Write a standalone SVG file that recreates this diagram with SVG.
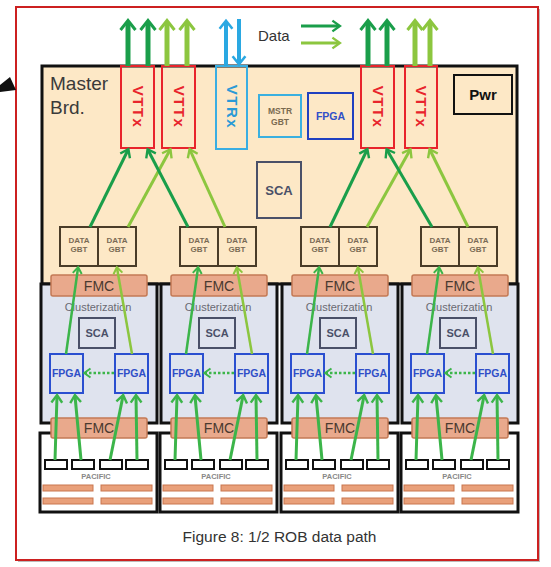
<svg xmlns="http://www.w3.org/2000/svg" width="551" height="567" viewBox="0 0 551 567">
<style>
text{font-family:"Liberation Sans","DejaVu Sans",Arial,sans-serif}
.board{fill:#fde8c6;stroke:#111;stroke-width:3}
.vttx{fill:none;stroke:#e8242c;stroke-width:2}
.vttxt{fill:#e8242c;font-size:15px;font-weight:bold;letter-spacing:1.5px}
.vtrx{fill:none;stroke:#3aaee2;stroke-width:2}
.vtrxt{fill:#2a9ad6;font-size:15px;font-weight:bold;letter-spacing:1.5px}
.clust{fill:#dfe3ee;stroke:#111;stroke-width:3}
.pac{fill:#fff;stroke:#111;stroke-width:3}
.fmc{fill:#e9a98c;stroke:#c47a55;stroke-width:1.5}
.fmct{fill:#4a3a30;font-size:14px}
.gbt{fill:#fde8c6;stroke:#4a3c28;stroke-width:2}
.gbtt{fill:#7a6a55;font-size:8px;font-weight:bold}
.fpga{fill:none;stroke:#2a4fd0;stroke-width:2}
.fpgat{fill:#2f4fc8;font-size:10.5px;font-weight:bold}
.sca{fill:none;stroke:#4a5068;stroke-width:2}
.scat{fill:#4a5068;font-weight:bold}
.chip{fill:#fff;stroke:#111;stroke-width:2}
.bar{fill:#e9a07a;stroke:#c9764e;stroke-width:1}
.ct{fill:#6a6a72;font-size:11px}
.pt{fill:#888;font-size:7.5px;font-weight:bold}
.dk{stroke:#1a9e4a;fill:none}
.lt{stroke:#8cc63f;fill:none}
.md{stroke:#3cb54a;fill:none}
.bl{stroke:#2aa8e2;fill:none}
</style>
<defs>
<marker id="bDk" markerUnits="strokeWidth" viewBox="-3 -3 5 6" markerWidth="5" markerHeight="6" refX="0" refY="0" orient="auto" overflow="visible"><path d="M-1.6,-1.5 L0.3,0 L-1.6,1.5" fill="none" stroke="#1a9e4a" stroke-width="0.6"/></marker>
<marker id="bLt" markerUnits="strokeWidth" viewBox="-3 -3 5 6" markerWidth="5" markerHeight="6" refX="0" refY="0" orient="auto" overflow="visible"><path d="M-1.6,-1.5 L0.3,0 L-1.6,1.5" fill="none" stroke="#8cc63f" stroke-width="0.6"/></marker>
<marker id="bBl" markerUnits="strokeWidth" viewBox="-3 -3 5 6" markerWidth="5" markerHeight="6" refX="0" refY="0" orient="auto" overflow="visible"><path d="M-1.7,-1.6 L0.3,0 L-1.7,1.6" fill="none" stroke="#2aa8e2" stroke-width="0.65"/></marker>
<marker id="sDk" markerUnits="strokeWidth" viewBox="-4 -3 5 6" markerWidth="5" markerHeight="6" refX="0" refY="0" orient="auto" overflow="visible"><path d="M-2.2,-1.8 L0.3,0 L-2.2,1.8" fill="none" stroke="#1a9e4a" stroke-width="0.8"/></marker>
<marker id="sLt" markerUnits="strokeWidth" viewBox="-4 -3 5 6" markerWidth="5" markerHeight="6" refX="0" refY="0" orient="auto" overflow="visible"><path d="M-2.2,-1.8 L0.3,0 L-2.2,1.8" fill="none" stroke="#8cc63f" stroke-width="0.8"/></marker>
<marker id="sMd" markerUnits="strokeWidth" viewBox="-4 -3 5 6" markerWidth="5" markerHeight="6" refX="0" refY="0" orient="auto" overflow="visible"><path d="M-2.2,-1.8 L0.3,0 L-2.2,1.8" fill="none" stroke="#3cb54a" stroke-width="0.8"/></marker>
</defs>

<rect x="18" y="9" width="522" height="553" fill="#bbb"/>
<rect x="16" y="7" width="522" height="553" fill="#fff" stroke="#cc2020" stroke-width="2"/>
<polygon points="0,85 10,77 16,90 0,92" fill="#111"/>

<g id="master">
<rect class="board" x="42" y="66" width="475" height="218"/>
<text x="50" y="90" font-size="19" fill="#3a3a3a">Master</text>
<text x="50" y="114" font-size="19" fill="#3a3a3a">Brd.</text>
</g>

<g id="vttx1"><rect class="vttx" x="121" y="66" width="33" height="82"/><text class="vttxt" transform="translate(137.5,107) rotate(90)" text-anchor="middle" dy="5">VTTx</text></g>
<g id="vttx2"><rect class="vttx" x="162" y="66" width="33" height="82"/><text class="vttxt" transform="translate(178.5,107) rotate(90)" text-anchor="middle" dy="5">VTTx</text></g>
<g id="vtrx"><rect class="vtrx" x="216" y="66" width="31" height="83"/><text class="vtrxt" transform="translate(231.5,107) rotate(90)" text-anchor="middle" dy="5">VTRx</text></g>
<g id="vttx3"><rect class="vttx" x="361" y="66" width="33" height="82"/><text class="vttxt" transform="translate(377.5,107) rotate(90)" text-anchor="middle" dy="5">VTTx</text></g>
<g id="vttx4"><rect class="vttx" x="405" y="66" width="32" height="82"/><text class="vttxt" transform="translate(421,107) rotate(90)" text-anchor="middle" dy="5">VTTx</text></g>

<g id="mstrgbt"><rect x="259" y="95" width="42" height="42" fill="none" stroke="#3ab0e0" stroke-width="2"/><text x="280" y="114" text-anchor="middle" font-size="8.5" font-weight="bold" fill="#7a6a50">MSTR</text><text x="280" y="125" text-anchor="middle" font-size="8.5" font-weight="bold" fill="#7a6a50">GBT</text></g>
<g id="mfpga"><rect x="308" y="93" width="45" height="46" fill="none" stroke="#2040c0" stroke-width="2"/><text x="330.5" y="120" text-anchor="middle" font-size="10.5" font-weight="bold" fill="#3050c8">FPGA</text></g>
<g id="msca"><rect class="sca" x="257" y="162" width="44" height="56"/><text class="scat" x="279" y="195" text-anchor="middle" font-size="13">SCA</text></g>
<g id="pwr"><rect x="454" y="75" width="58" height="39" fill="none" stroke="#111" stroke-width="2"/><text x="483" y="100" text-anchor="middle" font-size="15" font-weight="bold" fill="#111">Pwr</text></g>
<g id="legend"><text x="258" y="41" font-size="15" fill="#333">Data</text></g>

<g id="col1" transform="translate(41,0)">
<g id="clust1"><rect class="clust" x="0" y="284" width="116" height="139"/><text class="ct" x="57" y="311" text-anchor="middle">Clusterization</text></g>
<g id="pacb1"><rect class="pac" x="-1" y="433" width="117" height="79"/>
<rect class="chip" x="4" y="460" width="22" height="9"/><rect class="chip" x="31" y="460" width="22" height="9"/><rect class="chip" x="59" y="460" width="22" height="9"/><rect class="chip" x="85" y="460" width="22" height="9"/>
<text class="pt" x="55" y="479" text-anchor="middle">PACIFIC</text>
<rect class="bar" x="2" y="485" width="50" height="6"/><rect class="bar" x="60" y="485" width="51" height="6"/><rect class="bar" x="2" y="498" width="50" height="6"/><rect class="bar" x="60" y="498" width="51" height="6"/></g>
<g id="fmcT1"><rect class="fmc" x="10" y="275" width="96" height="21" rx="2"/><text class="fmct" x="58" y="291" text-anchor="middle">FMC</text></g>
<g id="fmcB1"><rect class="fmc" x="10" y="418" width="96" height="20" rx="2"/><text class="fmct" x="58" y="433" text-anchor="middle">FMC</text></g>
<g id="sca1"><rect class="sca" x="38" y="318" width="36" height="30"/><text class="scat" x="56" y="337" text-anchor="middle" font-size="11">SCA</text></g>
<g id="fpgaL1"><rect class="fpga" x="9" y="354" width="33" height="39"/><text class="fpgat" x="25.5" y="377" text-anchor="middle">FPGA</text></g>
<g id="fpgaR1"><rect class="fpga" x="74" y="354" width="33" height="39"/><text class="fpgat" x="90.5" y="377" text-anchor="middle">FPGA</text></g>
<g id="gbtA1"><rect class="gbt" x="19" y="227" width="38" height="39"/><text class="gbtt" x="38" y="243" text-anchor="middle">DATA</text><text class="gbtt" x="38" y="252" text-anchor="middle">GBT</text></g>
<g id="gbtB1"><rect class="gbt" x="57" y="227" width="38" height="39"/><text class="gbtt" x="76" y="243" text-anchor="middle">DATA</text><text class="gbtt" x="76" y="252" text-anchor="middle">GBT</text></g>
</g>

<g id="col2" transform="translate(161,0)">
<g id="clust2"><rect class="clust" x="0" y="284" width="116" height="139"/><text class="ct" x="57" y="311" text-anchor="middle">Clusterization</text></g>
<g id="pacb2"><rect class="pac" x="-1" y="433" width="117" height="79"/>
<rect class="chip" x="4" y="460" width="22" height="9"/><rect class="chip" x="31" y="460" width="22" height="9"/><rect class="chip" x="59" y="460" width="22" height="9"/><rect class="chip" x="85" y="460" width="22" height="9"/>
<text class="pt" x="55" y="479" text-anchor="middle">PACIFIC</text>
<rect class="bar" x="2" y="485" width="50" height="6"/><rect class="bar" x="60" y="485" width="51" height="6"/><rect class="bar" x="2" y="498" width="50" height="6"/><rect class="bar" x="60" y="498" width="51" height="6"/></g>
<g id="fmcT2"><rect class="fmc" x="10" y="275" width="96" height="21" rx="2"/><text class="fmct" x="58" y="291" text-anchor="middle">FMC</text></g>
<g id="fmcB2"><rect class="fmc" x="10" y="418" width="96" height="20" rx="2"/><text class="fmct" x="58" y="433" text-anchor="middle">FMC</text></g>
<g id="sca2"><rect class="sca" x="38" y="318" width="36" height="30"/><text class="scat" x="56" y="337" text-anchor="middle" font-size="11">SCA</text></g>
<g id="fpgaL2"><rect class="fpga" x="9" y="354" width="33" height="39"/><text class="fpgat" x="25.5" y="377" text-anchor="middle">FPGA</text></g>
<g id="fpgaR2"><rect class="fpga" x="74" y="354" width="33" height="39"/><text class="fpgat" x="90.5" y="377" text-anchor="middle">FPGA</text></g>
<g id="gbtA2"><rect class="gbt" x="19" y="227" width="38" height="39"/><text class="gbtt" x="38" y="243" text-anchor="middle">DATA</text><text class="gbtt" x="38" y="252" text-anchor="middle">GBT</text></g>
<g id="gbtB2"><rect class="gbt" x="57" y="227" width="38" height="39"/><text class="gbtt" x="76" y="243" text-anchor="middle">DATA</text><text class="gbtt" x="76" y="252" text-anchor="middle">GBT</text></g>
</g>

<g id="col3" transform="translate(282,0)">
<g id="clust3"><rect class="clust" x="0" y="284" width="116" height="139"/><text class="ct" x="57" y="311" text-anchor="middle">Clusterization</text></g>
<g id="pacb3"><rect class="pac" x="-1" y="433" width="117" height="79"/>
<rect class="chip" x="4" y="460" width="22" height="9"/><rect class="chip" x="31" y="460" width="22" height="9"/><rect class="chip" x="59" y="460" width="22" height="9"/><rect class="chip" x="85" y="460" width="22" height="9"/>
<text class="pt" x="55" y="479" text-anchor="middle">PACIFIC</text>
<rect class="bar" x="2" y="485" width="50" height="6"/><rect class="bar" x="60" y="485" width="51" height="6"/><rect class="bar" x="2" y="498" width="50" height="6"/><rect class="bar" x="60" y="498" width="51" height="6"/></g>
<g id="fmcT3"><rect class="fmc" x="10" y="275" width="96" height="21" rx="2"/><text class="fmct" x="58" y="291" text-anchor="middle">FMC</text></g>
<g id="fmcB3"><rect class="fmc" x="10" y="418" width="96" height="20" rx="2"/><text class="fmct" x="58" y="433" text-anchor="middle">FMC</text></g>
<g id="sca3"><rect class="sca" x="38" y="318" width="36" height="30"/><text class="scat" x="56" y="337" text-anchor="middle" font-size="11">SCA</text></g>
<g id="fpgaL3"><rect class="fpga" x="9" y="354" width="33" height="39"/><text class="fpgat" x="25.5" y="377" text-anchor="middle">FPGA</text></g>
<g id="fpgaR3"><rect class="fpga" x="74" y="354" width="33" height="39"/><text class="fpgat" x="90.5" y="377" text-anchor="middle">FPGA</text></g>
<g id="gbtA3"><rect class="gbt" x="19" y="227" width="38" height="39"/><text class="gbtt" x="38" y="243" text-anchor="middle">DATA</text><text class="gbtt" x="38" y="252" text-anchor="middle">GBT</text></g>
<g id="gbtB3"><rect class="gbt" x="57" y="227" width="38" height="39"/><text class="gbtt" x="76" y="243" text-anchor="middle">DATA</text><text class="gbtt" x="76" y="252" text-anchor="middle">GBT</text></g>
</g>

<g id="col4" transform="translate(402,0)">
<g id="clust4"><rect class="clust" x="0" y="284" width="116" height="139"/><text class="ct" x="57" y="311" text-anchor="middle">Clusterization</text></g>
<g id="pacb4"><rect class="pac" x="-1" y="433" width="117" height="79"/>
<rect class="chip" x="4" y="460" width="22" height="9"/><rect class="chip" x="31" y="460" width="22" height="9"/><rect class="chip" x="59" y="460" width="22" height="9"/><rect class="chip" x="85" y="460" width="22" height="9"/>
<text class="pt" x="55" y="479" text-anchor="middle">PACIFIC</text>
<rect class="bar" x="2" y="485" width="50" height="6"/><rect class="bar" x="60" y="485" width="51" height="6"/><rect class="bar" x="2" y="498" width="50" height="6"/><rect class="bar" x="60" y="498" width="51" height="6"/></g>
<g id="fmcT4"><rect class="fmc" x="10" y="275" width="96" height="21" rx="2"/><text class="fmct" x="58" y="291" text-anchor="middle">FMC</text></g>
<g id="fmcB4"><rect class="fmc" x="10" y="418" width="96" height="20" rx="2"/><text class="fmct" x="58" y="433" text-anchor="middle">FMC</text></g>
<g id="sca4"><rect class="sca" x="38" y="318" width="36" height="30"/><text class="scat" x="56" y="337" text-anchor="middle" font-size="11">SCA</text></g>
<g id="fpgaL4"><rect class="fpga" x="9" y="354" width="33" height="39"/><text class="fpgat" x="25.5" y="377" text-anchor="middle">FPGA</text></g>
<g id="fpgaR4"><rect class="fpga" x="74" y="354" width="33" height="39"/><text class="fpgat" x="90.5" y="377" text-anchor="middle">FPGA</text></g>
<g id="gbtA4"><rect class="gbt" x="19" y="227" width="38" height="39"/><text class="gbtt" x="38" y="243" text-anchor="middle">DATA</text><text class="gbtt" x="38" y="252" text-anchor="middle">GBT</text></g>
<g id="gbtB4"><rect class="gbt" x="57" y="227" width="38" height="39"/><text class="gbtt" x="76" y="243" text-anchor="middle">DATA</text><text class="gbtt" x="76" y="252" text-anchor="middle">GBT</text></g>
</g>

<g id="connectors">
<g stroke-width="5">
<line class="dk" x1="128" y1="66" x2="128" y2="22" marker-end="url(#bDk)"/>
<line class="dk" x1="148" y1="66" x2="148" y2="22" marker-end="url(#bDk)"/>
<line class="lt" x1="167" y1="66" x2="167" y2="22" marker-end="url(#bLt)"/>
<line class="lt" x1="187" y1="66" x2="187" y2="22" marker-end="url(#bLt)"/>
<line class="dk" x1="368" y1="66" x2="368" y2="22" marker-end="url(#bDk)"/>
<line class="dk" x1="387" y1="66" x2="387" y2="22" marker-end="url(#bDk)"/>
<line class="lt" x1="415" y1="66" x2="415" y2="22" marker-end="url(#bLt)"/>
<line class="lt" x1="430" y1="66" x2="430" y2="22" marker-end="url(#bLt)"/>
</g>
<g stroke-width="4">
<line class="bl" x1="226" y1="66" x2="226" y2="22" marker-end="url(#bBl)"/>
<line class="bl" x1="239" y1="19" x2="239" y2="63" marker-end="url(#bBl)"/>
</g>
<g stroke-width="3">
<line class="dk" x1="301" y1="26" x2="339" y2="26" marker-end="url(#sDk)"/>
<line class="lt" x1="301" y1="43" x2="339" y2="43" marker-end="url(#sLt)"/>
<line class="dk" x1="90" y1="227" x2="128" y2="150" marker-end="url(#sDk)"/>
<line class="lt" x1="128" y1="227" x2="170" y2="150" marker-end="url(#sLt)"/>
<line class="dk" x1="188" y1="227" x2="148" y2="150" marker-end="url(#sDk)"/>
<line class="lt" x1="225" y1="227" x2="190" y2="150" marker-end="url(#sLt)"/>
<line class="dk" x1="330" y1="227" x2="367" y2="150" marker-end="url(#sDk)"/>
<line class="lt" x1="367" y1="227" x2="410" y2="150" marker-end="url(#sLt)"/>
<line class="dk" x1="432" y1="227" x2="387" y2="150" marker-end="url(#sDk)"/>
<line class="lt" x1="468" y1="227" x2="430" y2="150" marker-end="url(#sLt)"/>
</g>
<g stroke-width="2.5">
<line class="md" x1="66" y1="354" x2="78" y2="268" marker-end="url(#sMd)"/>
<line class="lt" x1="132" y1="354" x2="117" y2="268" marker-end="url(#sLt)"/>
<line class="md" x1="186" y1="354" x2="198" y2="268" marker-end="url(#sMd)"/>
<line class="lt" x1="252" y1="354" x2="237" y2="268" marker-end="url(#sLt)"/>
<line class="md" x1="307" y1="354" x2="319" y2="268" marker-end="url(#sMd)"/>
<line class="lt" x1="373" y1="354" x2="358" y2="268" marker-end="url(#sLt)"/>
<line class="md" x1="427" y1="354" x2="439" y2="268" marker-end="url(#sMd)"/>
<line class="lt" x1="493" y1="354" x2="478" y2="268" marker-end="url(#sLt)"/>
</g>
<g stroke-width="3">
<line class="md" x1="55" y1="460" x2="57" y2="396" marker-end="url(#sMd)"/>
<line class="md" x1="81" y1="460" x2="75" y2="396" marker-end="url(#sMd)"/>
<line class="md" x1="110" y1="460" x2="123" y2="396" marker-end="url(#sMd)"/>
<line class="md" x1="137" y1="460" x2="136" y2="396" marker-end="url(#sMd)"/>
<line class="md" x1="175" y1="460" x2="177" y2="396" marker-end="url(#sMd)"/>
<line class="md" x1="201" y1="460" x2="195" y2="396" marker-end="url(#sMd)"/>
<line class="md" x1="230" y1="460" x2="243" y2="396" marker-end="url(#sMd)"/>
<line class="md" x1="257" y1="460" x2="256" y2="396" marker-end="url(#sMd)"/>
<line class="md" x1="296" y1="460" x2="298" y2="396" marker-end="url(#sMd)"/>
<line class="md" x1="322" y1="460" x2="316" y2="396" marker-end="url(#sMd)"/>
<line class="md" x1="351" y1="460" x2="364" y2="396" marker-end="url(#sMd)"/>
<line class="md" x1="378" y1="460" x2="377" y2="396" marker-end="url(#sMd)"/>
<line class="md" x1="416" y1="460" x2="418" y2="396" marker-end="url(#sMd)"/>
<line class="md" x1="442" y1="460" x2="436" y2="396" marker-end="url(#sMd)"/>
<line class="md" x1="471" y1="460" x2="484" y2="396" marker-end="url(#sMd)"/>
<line class="md" x1="498" y1="460" x2="497" y2="396" marker-end="url(#sMd)"/>
</g>
<g stroke-width="2.5" stroke-dasharray="2.5 2">
<line class="md" x1="114" y1="373" x2="85" y2="373" marker-end="url(#sMd)"/>
<line class="md" x1="234" y1="373" x2="205" y2="373" marker-end="url(#sMd)"/>
<line class="md" x1="355" y1="373" x2="326" y2="373" marker-end="url(#sMd)"/>
<line class="md" x1="475" y1="373" x2="446" y2="373" marker-end="url(#sMd)"/>
</g>
</g>

<text x="279.5" y="542" text-anchor="middle" font-size="15.5" fill="#333">Figure 8: 1/2 ROB data path</text>
</svg>
